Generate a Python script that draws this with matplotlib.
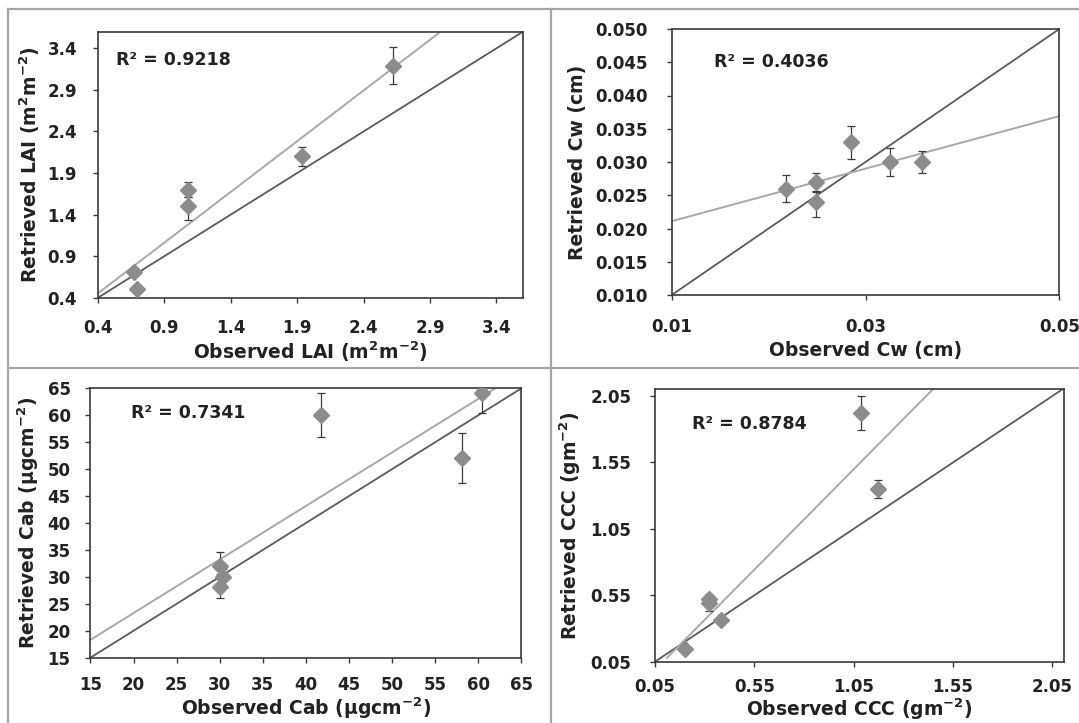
import numpy as np
import matplotlib
matplotlib.use("Agg")
import matplotlib.pyplot as plt
from matplotlib.lines import Line2D
from matplotlib.ticker import FormatStrFormatter

# ---------------- data ----------------
# LAI panel
lai_obs = [0.67, 0.695, 1.074, 1.074, 1.936, 2.62]
lai_ret = [0.71, 0.51, 1.50, 1.70, 2.10, 3.19]
lai_err_lo = [0.04, 0.02, 0.17, 0.09, 0.11, 0.22]
lai_err_hi = [0.04, 0.02, 0.11, 0.09, 0.11, 0.22]
lai_fit = [1.22, -0.035]          # slope, intercept of trendline
lai_fit_x = [0.4, 3.6]
lai_r2 = "R\u00b2 = 0.9218"
lai_ticks = [0.4, 0.9, 1.4, 1.9, 2.4, 2.9, 3.4]
lai_lim = [0.4, 3.6]

# Cw panel
cw_obs = [0.0218, 0.0249, 0.0249, 0.0285, 0.0325, 0.0358]
cw_ret = [0.026, 0.027, 0.024, 0.033, 0.030, 0.030]
cw_err_lo = [0.0020, 0.0014, 0.0022, 0.0025, 0.0021, 0.0016]
cw_err_hi = [0.0020, 0.0014, 0.0015, 0.0024, 0.0021, 0.0016]
cw_fit = [0.395, 0.01715]
cw_fit_x = [0.01, 0.05]
cw_r2 = "R\u00b2 = 0.4036"
cw_xticks = [0.01, 0.03, 0.05]
cw_yticks = [0.010, 0.015, 0.020, 0.025, 0.030, 0.035, 0.040, 0.045, 0.050]
cw_lim = [0.01, 0.05]

# Cab panel
cab_obs = [30.0, 30.4, 30.0, 41.8, 58.1, 60.4]
cab_ret = [32.1, 30.0, 28.1, 60.0, 52.1, 64.1]
cab_err_lo = [1.5, 1.5, 2.0, 4.1, 4.6, 3.6]
cab_err_hi = [2.5, 1.5, 1.5, 4.1, 4.6, 0.0]
cab_fit = [0.994, 3.4]
cab_fit_x = [15, 65]
cab_r2 = "R\u00b2 = 0.7341"
cab_ticks = [15, 20, 25, 30, 35, 40, 45, 50, 55, 60, 65]
cab_lim = [15, 65]

# CCC panel
ccc_obs = [0.201, 0.32, 0.32, 0.382, 1.088, 1.17]
ccc_ret = [0.143, 0.52, 0.49, 0.364, 1.92, 1.35]
ccc_err_lo = [0.02, 0.04, 0.06, 0.03, 0.13, 0.07]
ccc_err_hi = [0.02, 0.04, 0.04, 0.03, 0.13, 0.07]
ccc_fit = [1.511, -0.088]
ccc_fit_x = [0.11, 2.11]
ccc_r2 = "R\u00b2 = 0.8784"
ccc_ticks = [0.05, 0.55, 1.05, 1.55, 2.05]
ccc_xlim = [0.05, 2.11]
ccc_ylim = [0.05, 2.10]

# ---------------- style ----------------
plt.rcParams['font.family'] = ['DejaVu Sans']
plt.rcParams['font.weight'] = 'bold'
plt.rcParams['mathtext.default'] = 'bf'

TXT = '#222222'
MARK = '#8c8c8c'
TREND = '#a8a8a8'
ONE = '#5a5a5a'
ERR = '#3c3c3c'
SPINE = '#3a3a3a'
BORDER = '#a6a6a6'

W, H = 1079, 723
fig = plt.figure(figsize=(W / 100, H / 100), dpi=100)
fig.patch.set_facecolor('white')


def box(l, t, r, b):
    return [l / W, 1 - b / H, (r - l) / W, (b - t) / H]


def panel(pos, obs, ret, elo, ehi, fit, fit_x, xlim, ylim, xticks, yticks,
          xfmt, yfmt, xlabel, ylabel, r2, r2pos, ylab_x, xlab_y, xpad, ypad):
    ax = fig.add_axes(box(*pos))
    lo = max(xlim[0], ylim[0])
    hi = max(xlim[1], ylim[1])
    ax.plot([lo, hi], [lo, hi], color=ONE, lw=1.3, zorder=2)
    fx = np.array(fit_x, dtype=float)
    ax.plot(fx, fit[0] * fx + fit[1], color=TREND, lw=1.4, zorder=2)
    ax.errorbar(obs, ret, yerr=[elo, ehi], fmt='D', ms=8.5, mfc=MARK,
                mec=MARK, ecolor=ERR, elinewidth=0.9, capsize=3,
                capthick=0.9, zorder=3)
    ax.set_xlim(xlim); ax.set_ylim(ylim)
    ax.set_xticks(xticks); ax.set_yticks(yticks)
    ax.xaxis.set_major_formatter(FormatStrFormatter(xfmt))
    ax.yaxis.set_major_formatter(FormatStrFormatter(yfmt))
    ax.tick_params(axis='both', direction='out', length=3.5, width=1.0,
                   color=SPINE, labelsize=12, labelcolor=TXT)
    ax.tick_params(axis='x', pad=xpad)
    ax.tick_params(axis='y', pad=ypad)
    for lab in ax.get_xticklabels() + ax.get_yticklabels():
        lab.set_fontweight('bold')
    for s in ax.spines.values():
        s.set_color(SPINE); s.set_linewidth(1.2)
    ax.set_xlabel(xlabel, fontsize=13.5, fontweight='bold', color=TXT)
    ax.set_ylabel(ylabel, fontsize=13.5, fontweight='bold', color=TXT)
    ax.xaxis.set_label_coords(0.5, xlab_y)
    ax.xaxis.label.set_va('center')
    ax.yaxis.set_label_coords(ylab_x, 0.5)
    ax.yaxis.label.set_va('center')
    ax.text(r2pos[0], r2pos[1], r2, transform=ax.transAxes, ha='left',
            va='center', fontsize=12.5, fontweight='bold', color=TXT)
    return ax


panel((98, 31.7, 523, 297.7), lai_obs, lai_ret, lai_err_lo, lai_err_hi,
      lai_fit, lai_fit_x, lai_lim, lai_lim, lai_ticks, lai_ticks,
      '%.1f', '%.1f', 'Observed LAI (m$^{2}$m$^{-2}$)',
      'Retrieved LAI (m$^{2}$m$^{-2}$)', lai_r2, (0.043, 0.894),
      -0.161, -0.205, 12, 11.5)

panel((671.7, 29, 1059.3, 295), cw_obs, cw_ret, cw_err_lo, cw_err_hi,
      cw_fit, cw_fit_x, cw_lim, cw_lim, cw_xticks, cw_yticks,
      '%.2f', '%.3f', 'Observed Cw (cm)', 'Retrieved Cw (cm)', cw_r2,
      (0.11, 0.876), -0.243, -0.207, 13, 13.5)

panel((90.4, 388.3, 521.4, 657.7), cab_obs, cab_ret, cab_err_lo, cab_err_hi,
      cab_fit, cab_fit_x, cab_lim, cab_lim, cab_ticks, cab_ticks,
      '%d', '%d', 'Observed Cab (\u00b5gcm$^{-2}$)',
      'Retrieved Cab (\u00b5gcm$^{-2}$)', cab_r2, (0.095, 0.907),
      -0.145, -0.186, 10, 10.8)

panel((655, 389.3, 1064.4, 661.7), ccc_obs, ccc_ret, ccc_err_lo, ccc_err_hi,
      ccc_fit, ccc_fit_x, ccc_xlim, ccc_ylim, ccc_ticks, ccc_ticks,
      '%.2f', '%.2f', 'Observed CCC (gm$^{-2}$)',
      'Retrieved CCC (gm$^{-2}$)', ccc_r2, (0.091, 0.873),
      -0.206, -0.174, 8, 13.5)

# panel borders (table grid around the four charts)
def hline(y, x0=8.3, x1=W):
    fig.add_artist(Line2D([x0 / W, x1 / W], [1 - y / H, 1 - y / H],
                          color=BORDER, lw=1.6, transform=fig.transFigure))

def vline(x, y0=9.3, y1=H):
    fig.add_artist(Line2D([x / W, x / W], [1 - y0 / H, 1 - y1 / H],
                          color=BORDER, lw=1.6, transform=fig.transFigure))

hline(9.3)
hline(367.7)
vline(8.3)
vline(550.7)

fig.savefig('out.png', dpi=100, facecolor='white')
